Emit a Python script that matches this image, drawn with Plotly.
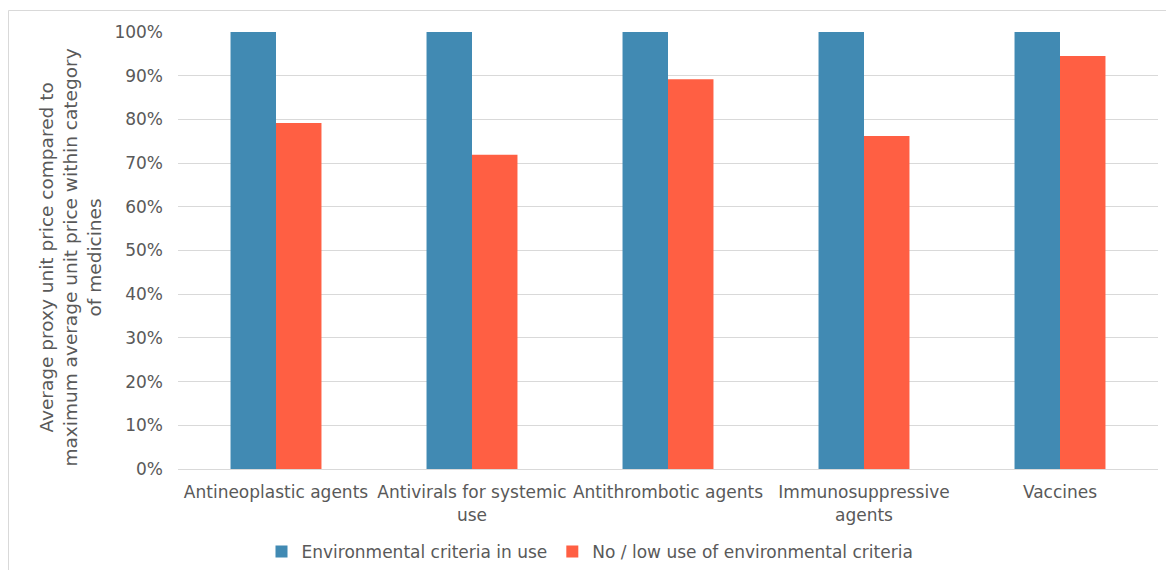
import plotly.graph_objects as go

categories = ["Antineoplastic agents", "Antivirals for systemic<br>use", "Antithrombotic agents",
              "Immunosuppressive<br>agents", "Vaccines"]
env_in_use = [1.00, 1.00, 1.00, 1.00, 1.00]
no_low_use = [0.792, 0.719, 0.892, 0.762, 0.945]
series_names = ["Environmental criteria in use", "No / low use of environmental criteria"]
y_title = "Average proxy unit price compared to<br>maximum average unit price within category<br>of medicines"

W, H = 1166, 570
L, R, T, B = 178, 8, 32, 101
FONT = "DejaVu Sans"
GRAY = "#595959"

fig = go.Figure()
fig.add_trace(go.Bar(x=categories, y=env_in_use, name=series_names[0],
                     marker=dict(color="#418AB3", line=dict(width=0))))
fig.add_trace(go.Bar(x=categories, y=no_low_use, name=series_names[1],
                     marker=dict(color="#FF5F43", line=dict(width=0))))

pw, ph = W - L - R, H - T - B

fig.update_layout(
    width=W, height=H,
    margin=dict(l=L, r=R, t=T, b=B, autoexpand=False),
    paper_bgcolor="white", plot_bgcolor="white",
    font=dict(family=FONT, size=17, color=GRAY),
    barmode="group", bargap=0.536, bargroupgap=0,
    showlegend=True,
    legend=dict(orientation="h", x=(590 - L) / pw, xanchor="center",
                y=-(552 - 469) / ph, yanchor="middle",
                font=dict(size=17, color=GRAY), itemwidth=30,
                traceorder="normal"),
    xaxis=dict(showgrid=False, showline=True, linecolor="#d9d9d9", linewidth=1,
               ticks="", ticklabelstandoff=8, tickfont=dict(size=17, color=GRAY)),
    yaxis=dict(range=[0, 1.0], tickformat=".0%", dtick=0.1, showgrid=True,
               gridcolor="#d9d9d9", gridwidth=1, zeroline=False, showline=False,
               ticks="", ticklabelstandoff=14, tickfont=dict(size=17, color=GRAY)),
    annotations=[dict(text=y_title, textangle=-90, xref="paper", yref="paper",
                      x=(70 - L) / pw, y=0.5 - 7 / ph, xanchor="center", yanchor="middle",
                      showarrow=False, font=dict(size=18.5, color=GRAY))],
    shapes=[dict(type="rect", xref="paper", yref="paper",
                 x0=(8.5 - L) / pw, x1=(W + 5 - L) / pw,
                 y0=-(H + 5 - T - ph) / ph, y1=1 + (T - 10.5) / ph,
                 line=dict(color="#d9d9d9", width=1), layer="below")],
)

fig.write_html("out.html")
